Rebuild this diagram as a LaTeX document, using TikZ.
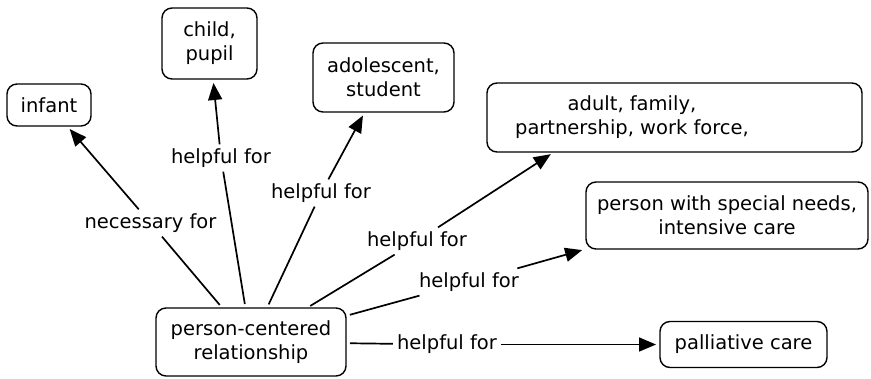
\documentclass[tikz,border=0pt]{standalone}
\usepackage{fontspec}
\setmainfont{DejaVu Sans}
\usetikzlibrary{arrows.meta}
\begin{document}
\begin{tikzpicture}[x=1pt,y=-1pt,
  concept/.style={draw, line width=1.4pt, rounded corners=10pt, align=center,
    inner sep=0pt, outer sep=0pt, font=\fontsize{19.5}{24}\selectfont},
  linkphrase/.style={inner sep=4pt, font=\fontsize{19.5}{24}\selectfont},
  link/.style={line width=1.7pt, shorten <=4pt},
  arrowlink/.style={line width=1.7pt, -{Triangle[length=17pt,width=14pt]}, shorten >=4pt},
  ]
\useasboundingbox (0,0) rectangle (871,378);

% concepts
\node[concept, minimum width=84pt,  minimum height=42pt] (infant) at (49,105) {infant};
\node[concept, minimum width=95pt,  minimum height=71pt] (child)  at (209.5,43.5) {child,\\pupil};
\node[concept, minimum width=141pt, minimum height=69pt] (adol)   at (383.5,77.5) {adolescent,\\student};
\node[concept, minimum width=375pt, minimum height=69pt] (adult)  at (674.5,117.5) {};
\node[align=center, inner sep=0pt, font=\fontsize{19.5}{24}\selectfont] (adulttext) at (632,117.5)
  {adult, family,\\partnership, work force,};
\node[concept, minimum width=282pt, minimum height=67pt] (special) at (727,215.5)
  {person with special needs,\\intensive care};
\node[concept, minimum width=167pt, minimum height=46pt] (pall) at (743.5,344.5) {palliative care};
\node[concept, minimum width=190pt, minimum height=68pt] (pcr) at (251,342)
  {person-centered\\relationship};

% linking phrases
\node[linkphrase] (l1) at (150.5,223) {necessary for};
\node[linkphrase] (l2) at (221,158) {helpful for};
\node[linkphrase] (l3) at (321,193) {helpful for};
\node[linkphrase] (l4) at (417,241) {helpful for};
\node[linkphrase] (l5) at (469,282) {helpful for};
\node[linkphrase] (l6) at (447,344.5) {helpful for};

% connectors
\draw[link] (pcr) -- (l1);
\draw[arrowlink] (l1) -- (infant);
\draw[link] (pcr) -- (l2);
\draw[arrowlink] (l2) -- (child);
\draw[link] (pcr) -- (l3);
\draw[arrowlink] (l3) -- (adol);
\draw[link] (pcr) -- (l4);
\draw[arrowlink] (l4) -- (adult.196);
\draw[link] (pcr) -- (l5);
\draw[arrowlink] (l5) -- (special.south west);
\draw[link] (pcr) -- (l6);
\draw[arrowlink] (l6) -- (pall);
\end{tikzpicture}
\end{document}
